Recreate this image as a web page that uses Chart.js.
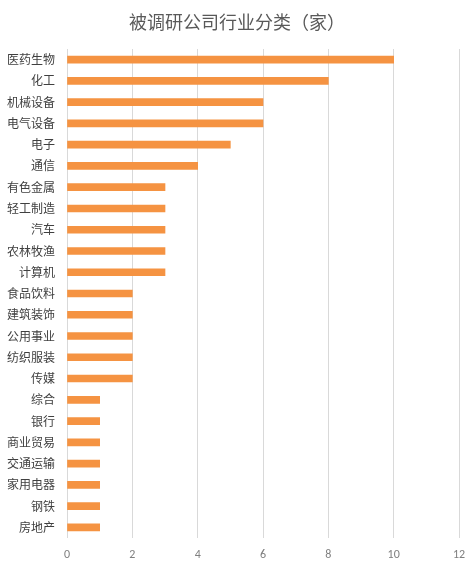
<!DOCTYPE html>
<html>
<head>
<meta charset="utf-8">
<style>
  html, body { margin: 0; padding: 0; background: #fff; }
  #wrap { width: 476px; height: 570px; }
</style>
<script src="https://cdn.jsdelivr.net/npm/chart.js@4/dist/chart.umd.min.js"></script>
</head>
<body>
<div id="wrap"><canvas id="myChart"></canvas></div>
<script>
const industries = ['医药生物', '化工', '机械设备', '电气设备', '电子', '通信', '有色金属', '轻工制造', '汽车', '农林牧渔', '计算机', '食品饮料', '建筑装饰', '公用事业', '纺织服装', '传媒', '综合', '银行', '商业贸易', '交通运输', '家用电器', '钢铁', '房地产'];
const companyCounts = [10, 8, 6, 6, 5, 4, 3, 3, 3, 3, 3, 2, 2, 2, 2, 2, 1, 1, 1, 1, 1, 1, 1];
const xTicks = [0, 2, 4, 6, 8, 10, 12];
const chartTitle = '被调研公司行业分类（家）';

const cjk = '"Noto Sans CJK SC", "Noto Sans", sans-serif';

// the built-in title centres on the whole canvas, the original sits a bit to the right
const titlePlugin = {
  id: 'offsetTitle',
  afterDraw(chart) {
    const c = chart.ctx;
    c.save();
    c.font = '18px ' + cjk;
    c.fillStyle = '#595959';
    c.textAlign = 'center';
    c.textBaseline = 'middle';
    c.fillText(chartTitle, 237, 22);
    c.restore();
  }
};

document.addEventListener('DOMContentLoaded', () => {
  const ctx = document.getElementById('myChart').getContext('2d');
  new Chart(ctx, {
    type: 'bar',
    data: {
      labels: industries,
      datasets: [{
        data: companyCounts,
        backgroundColor: '#F59342',
        borderWidth: 0,
        barThickness: 7
      }]
    },
    options: {
      indexAxis: 'y',
      responsive: true,
      maintainAspectRatio: false,
      animation: false,
      layout: { padding: { top: 49, left: 0, right: 17, bottom: 0 } },
      plugins: {
        legend: { display: false },
        tooltip: { enabled: false },
        title: { display: false }
      },
      scales: {
        x: {
          min: 0,
          max: 12,
          afterBuildTicks: scale => {
            scale.ticks = xTicks.map(v => ({ value: v }));
          },
          afterFit: scale => { scale.height = 32; },
          grid: { color: '#d9d9d9', lineWidth: 1, drawTicks: false },
          border: { display: false },
          ticks: {
            color: '#7f7f7f',
            padding: 10,
            font: { family: 'Calibri, "Liberation Sans", sans-serif', size: 12 }
          }
        },
        y: {
          afterFit: scale => { scale.width = 67; },
          grid: { display: false, drawTicks: false },
          border: { display: false },
          ticks: {
            color: '#404040',
            padding: 12,
            autoSkip: false,
            font: { family: cjk, size: 12 }
          }
        }
      }
    },
    plugins: [titlePlugin]
  });
});
</script>
</body>
</html>
